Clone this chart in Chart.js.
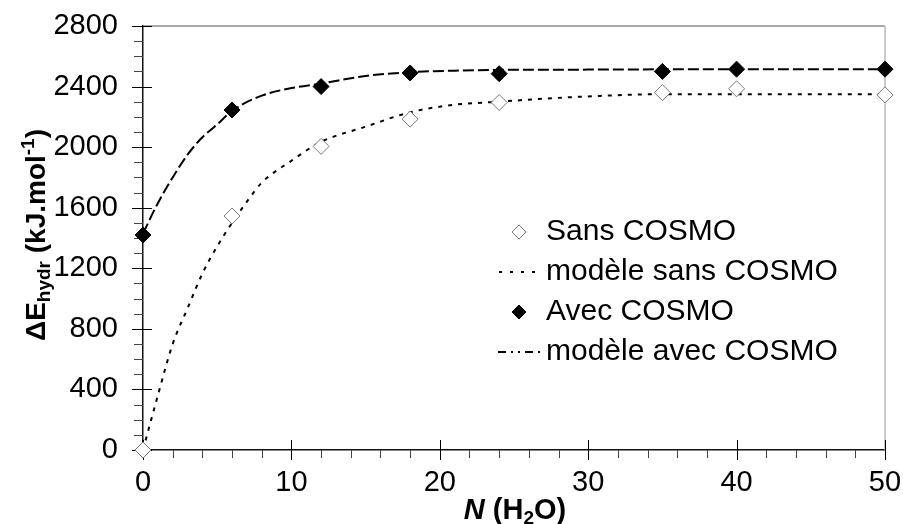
<!DOCTYPE html>
<html lang="fr">
<head>
<meta charset="UTF-8">
<title>Energie d'hydratation</title>
<script src="https://cdn.jsdelivr.net/npm/chart.js"></script>
<style>
  html, body { margin: 0; padding: 0; background: #fff; }
</style>
</head>
<body>
<canvas id="myChart" width="903" height="524"></canvas>
<script>
// points calculés
var nEau = [0, 6, 12, 18, 24, 35, 40, 50];
var sansCosmo = [0, 1545, 2005, 2185, 2295, 2360, 2385, 2345];
var avecCosmo = [1420, 2245, 2400, 2490, 2485, 2500, 2515, 2515];

// courbes du modèle
var nModeleSans = [0, 1, 2, 3, 4, 5, 6, 7, 8, 10, 12, 15, 18, 21, 24, 27, 30, 35, 40, 50];
var modeleSans = [0, 360, 700, 935, 1165, 1345, 1500, 1640, 1765, 1910, 2035, 2135, 2230, 2280, 2300, 2320, 2335, 2350, 2350, 2350];
var nModeleAvec = [0, 1, 2, 3, 4, 5, 6, 8, 10, 12, 15, 18, 21, 24, 30, 40, 50];
var modeleAvec = [1430, 1630, 1800, 1950, 2065, 2150, 2240, 2340, 2390, 2420, 2470, 2495, 2505, 2510, 2512, 2515, 2515];

// axes
var xMax = 50, xMajor = 10, xMinor = 2;
var yMax = 2800, yMajor = 400, yMinor = 100;

var legende = ['Sans COSMO', 'modèle sans COSMO', 'Avec COSMO', 'modèle avec COSMO'];

var police = "'Liberation Sans', Arial, sans-serif";

function points(xs, ys) {
    return xs.map(function (x, i) { return { x: x, y: ys[i] }; });
}

// texte avec indices / exposants
function texteRiche(ctx, parts, x, y) {
    var total = 0;
    parts.forEach(function (p) {
        ctx.font = p.f;
        p.w = ctx.measureText(p.t).width;
        total += p.w;
    });
    var cx = x - total / 2;
    parts.forEach(function (p) {
        ctx.font = p.f;
        ctx.fillText(p.t, cx, y + (p.dy || 0));
        cx += p.w;
    });
}

function losange(ctx, x, y, r, plein) {
    ctx.beginPath();
    ctx.moveTo(x, y - r);
    ctx.lineTo(x + r, y);
    ctx.lineTo(x, y + r);
    ctx.lineTo(x - r, y);
    ctx.closePath();
    ctx.fillStyle = plein ? '#000' : '#fff';
    ctx.fill();
    ctx.lineWidth = 1;
    ctx.strokeStyle = plein ? '#000' : '#777';
    ctx.stroke();
}

var decor = {
    id: 'decor',
    beforeDatasetsDraw: function (chart) {
        var ctx = chart.ctx, a = chart.chartArea;
        var sx = chart.scales.x, sy = chart.scales.y;
        ctx.save();
        // cadre haut et droit
        ctx.lineWidth = 1.5;
        ctx.strokeStyle = '#8c8c8c';
        ctx.beginPath(); ctx.moveTo(a.left, a.top); ctx.lineTo(a.right, a.top); ctx.stroke();
        ctx.strokeStyle = '#b8b8b8';
        ctx.beginPath(); ctx.moveTo(a.right, a.top); ctx.lineTo(a.right, a.bottom); ctx.stroke();

        // graduations
        ctx.lineWidth = 1;
        for (var v = 0; v <= yMax; v += yMinor) {
            var py = Math.round(sy.getPixelForValue(v)) + 0.5;
            var maj = v % yMajor === 0;
            ctx.strokeStyle = maj ? '#000' : '#444';
            ctx.beginPath();
            ctx.moveTo(a.left - (maj ? 11 : 9), py);
            ctx.lineTo(a.left + (maj ? 9 : 0), py);
            ctx.stroke();
        }
        for (var n = 0; n <= xMax; n += xMinor) {
            var px = Math.round(sx.getPixelForValue(n)) + 0.5;
            var majX = n % xMajor === 0;
            ctx.strokeStyle = majX ? '#000' : '#444';
            ctx.beginPath();
            ctx.moveTo(px, a.bottom - (majX ? 10 : 0));
            ctx.lineTo(px, a.bottom + (majX ? 10 : 8));
            ctx.stroke();
        }
        ctx.restore();
    },
    afterDraw: function (chart) {
        var ctx = chart.ctx;
        ctx.save();
        ctx.fillStyle = '#000';
        ctx.textBaseline = 'alphabetic';

        // titre axe y
        ctx.save();
        ctx.translate(35, 235);
        ctx.rotate(-Math.PI / 2);
        texteRiche(ctx, [
            { t: 'ΔE', f: 'bold 28px ' + police },
            { t: 'hydr', f: 'bold 19px ' + police, dy: 5 },
            { t: ' (kJ.mol', f: 'bold 28px ' + police },
            { t: '-1', f: 'bold 19px ' + police, dy: -11 },
            { t: ')', f: 'bold 28px ' + police }
        ], 0, 10);
        ctx.restore();

        // titre axe x
        texteRiche(ctx, [
            { t: 'N', f: 'italic bold 29px ' + police },
            { t: ' (H', f: 'bold 29px ' + police },
            { t: '2', f: 'bold 19px ' + police, dy: 5 },
            { t: 'O)', f: 'bold 29px ' + police }
        ], 515, 519);

        // légende
        var lx = 546, ly = [232, 272, 312, 352];
        ctx.font = '30px ' + police;
        ctx.textBaseline = 'middle';
        ctx.textAlign = 'left';
        legende.forEach(function (t, i) {
            ctx.fillStyle = '#000';
            ctx.fillText(t, lx, ly[i]);
        });
        losange(ctx, 519, ly[0], 7, false);
        losange(ctx, 519, ly[2], 7, true);
        ctx.strokeStyle = '#000';
        ctx.lineWidth = 2;
        ctx.setLineDash([3, 8]);
        ctx.beginPath(); ctx.moveTo(499, ly[1]); ctx.lineTo(543, ly[1]); ctx.stroke();
        ctx.setLineDash([8, 5, 2, 5, 2, 5]);
        ctx.beginPath(); ctx.moveTo(498, ly[3]); ctx.lineTo(544, ly[3]); ctx.stroke();
        ctx.restore();
    }
};

var ctx = document.getElementById('myChart').getContext('2d');
var chart = new Chart(ctx, {
    type: 'scatter',
    data: {
        datasets: [{
            label: legende[0],
            data: points(nEau, sansCosmo),
            pointStyle: 'rectRot',
            pointRadius: 8,
            pointBackgroundColor: '#fff',
            pointBorderColor: '#777',
            pointBorderWidth: 1,
            clip: false,
            order: 1
        }, {
            label: legende[1],
            data: points(nModeleSans, modeleSans),
            showLine: true,
            pointRadius: 0,
            borderColor: '#000',
            borderWidth: 2,
            borderDash: [4, 6],
            cubicInterpolationMode: 'monotone',
            order: 3
        }, {
            label: legende[2],
            data: points(nEau, avecCosmo),
            pointStyle: 'rectRot',
            pointRadius: 8,
            pointBackgroundColor: '#000',
            pointBorderColor: '#000',
            pointBorderWidth: 1,
            clip: false,
            order: 1
        }, {
            label: legende[3],
            data: points(nModeleAvec, modeleAvec),
            showLine: true,
            pointRadius: 0,
            borderColor: '#000',
            borderWidth: 2,
            borderDash: [11, 4],
            cubicInterpolationMode: 'monotone',
            order: 2
        }]
    },
    options: {
        responsive: false,
        animation: false,
        devicePixelRatio: 1,
        layout: { padding: { top: 26, right: 18, left: 0, bottom: 0 } },
        plugins: {
            legend: { display: false },
            tooltip: { enabled: false }
        },
        scales: {
            x: {
                type: 'linear',
                min: 0,
                max: xMax,
                grid: { display: false, drawTicks: false },
                border: { display: true, color: '#111', width: 1.5 },
                ticks: {
                    stepSize: xMajor,
                    padding: 16,
                    color: '#000',
                    font: { family: police, size: 29 },
                    callback: function (v) { return String(v); }
                },
                afterFit: function (s) {
                    s.height = 74;
                    s.paddingLeft = 0;
                    s.paddingRight = 0;
                }
            },
            y: {
                min: 0,
                max: yMax,
                grid: { display: false, drawTicks: false },
                border: { display: true, color: '#111', width: 1.5 },
                ticks: {
                    stepSize: yMajor,
                    padding: 25,
                    color: '#000',
                    font: { family: police, size: 29 },
                    callback: function (v) { return String(v); }
                },
                afterFit: function (s) {
                    s.width = 143;
                    s.paddingTop = 0;
                    s.paddingBottom = 0;
                }
            }
        }
    },
    plugins: [decor]
});
</script>
</body>
</html>
